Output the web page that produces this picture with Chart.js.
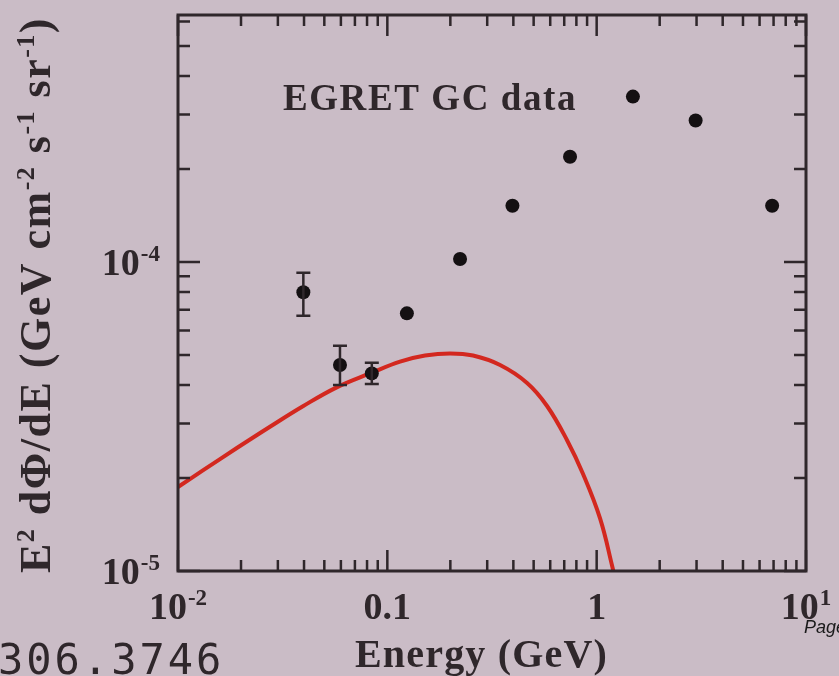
<!DOCTYPE html>
<html>
<head>
<meta charset="utf-8">
<script src="https://cdn.jsdelivr.net/npm/chart.js@4.4.1/dist/chart.umd.min.js"></script>
<style>
    html, body { margin: 0; padding: 0; background: #cabcc6; }
    #wrap { position: relative; width: 839px; height: 676px; }
</style>
</head>
<body>
<div id="wrap"><canvas id="sedChart"></canvas></div>
<script>
/* ==================================================
   EGRET 銀河中心スペクトル (Chart.js, 両対数)
   ================================================== */

// EGRET GC データ点 (GeV, GeV cm^-2 s^-1 sr^-1)
const egretE    = [0.0397, 0.0594, 0.0843, 0.124, 0.2225, 0.396, 0.746, 1.49, 2.97, 6.89];
const egretFlux = [7.98e-5, 4.64e-5, 4.36e-5, 6.82e-5, 1.023e-4, 1.52e-4, 2.19e-4, 3.43e-4, 2.87e-4, 1.52e-4];
const egretLo   = [6.70e-5, 4.00e-5, 4.03e-5, null, null, null, null, null, null, null];
const egretHi   = [9.23e-5, 5.36e-5, 4.72e-5, null, null, null, null, null, null, null];

// モデル曲線
const modelE    = [0.01, 0.0132, 0.0191, 0.0275, 0.0397, 0.0573, 0.0827, 0.1150, 0.1514, 0.1994,
                   0.2567, 0.3456, 0.4651, 0.5794, 0.722, 0.861, 1.038, 1.185, 1.265];
const modelFlux = [1.87e-5, 2.12e-5, 2.50e-5, 2.93e-5, 3.42e-5, 3.93e-5, 4.36e-5, 4.76e-5, 4.98e-5, 5.06e-5,
                   4.98e-5, 4.64e-5, 4.06e-5, 3.42e-5, 2.65e-5, 2.06e-5, 1.48e-5, 1.04e-5, 0.855e-5];

// 目盛
const xMajor  = [0.01, 0.1, 1, 10];
const xBase   = ['10', '0.1', '1', '10'];
const xExp    = ['-2', '', '', '1'];
const xMinor  = [0.02, 0.03, 0.04, 0.05, 0.06, 0.07, 0.08, 0.09,
                 0.2, 0.3, 0.4, 0.5, 0.6, 0.7, 0.8, 0.9,
                 2, 3, 4, 5, 6, 7, 8, 9];
const yMajor  = [1e-5, 1e-4];
const yBase   = ['10', '10'];
const yExp    = ['-5', '-4'];
const yMinor  = [2e-5, 3e-5, 4e-5, 5e-5, 6e-5, 7e-5, 8e-5, 9e-5, 2e-4, 3e-4, 4e-4, 5e-4, 6e-4];
const xMin = 0.01, xMax = 10;
const yMin = 1e-5, yMax = 6.3e-4;

const INK = '#2f272b';
const SERIF = '"Liberation Serif", "DejaVu Serif", serif';

/**
 * 右肩に指数付きの数値を描く (10^-4 など)
 */
function drawPow(ctx, base, exp, x, y, align, size) {
    const bigFont = `bold ${size}px ${SERIF}`;
    const supFont = `bold ${Math.round(size * 0.6)}px ${SERIF}`;
    ctx.font = bigFont;
    const wb = ctx.measureText(base).width;
    ctx.font = supFont;
    const we = exp ? ctx.measureText(exp).width + 1 : 0;
    const total = wb + we;
    let x0 = x - total / 2;
    if (align === 'right') x0 = x - total;
    ctx.textAlign = 'left';
    ctx.textBaseline = 'alphabetic';
    ctx.font = bigFont;
    ctx.fillText(base, x0, y);
    if (exp) {
        ctx.font = supFont;
        ctx.fillText(exp, x0 + wb + 1, y - size * 0.38);
    }
}

/**
 * 上付き文字を含むテキストを指定幅に合わせて描く
 * @param {Array} runs [{t, sup}]
 */
function drawRuns(ctx, runs, x, y, size, target) {
    const bigFont = `bold ${size}px ${SERIF}`;
    const supFont = `bold ${Math.round(size * 0.6)}px ${SERIF}`;
    ctx.letterSpacing = '0px';
    let natural = 0, chars = 0;
    runs.forEach(r => {
        ctx.font = r.sup ? supFont : bigFont;
        natural += ctx.measureText(r.t).width;
        chars += r.t.length;
    });
    const gap = (target - natural) / chars;
    let cx = x;
    ctx.textAlign = 'left';
    ctx.textBaseline = 'alphabetic';
    runs.forEach(r => {
        ctx.font = r.sup ? supFont : bigFont;
        ctx.letterSpacing = '0px';
        const w = ctx.measureText(r.t).width;
        ctx.letterSpacing = gap + 'px';
        ctx.fillText(r.t, cx, r.sup ? y - size * 0.36 : y);
        cx += w + gap * r.t.length;
    });
    ctx.letterSpacing = '0px';
}

// 枠・目盛・ラベル・誤差棒
const sedFrame = {
    id: 'sedFrame',
    afterDatasetsDraw(chart) {
        const { ctx, scales: { x, y } } = chart;
        ctx.save();
        ctx.strokeStyle = INK;
        ctx.lineWidth = 2.5;
        egretE.forEach((e, i) => {
            if (egretLo[i] == null) return;
            const px = x.getPixelForValue(e);
            const yLo = y.getPixelForValue(egretLo[i]);
            const yHi = y.getPixelForValue(egretHi[i]);
            ctx.beginPath();
            ctx.moveTo(px, yLo); ctx.lineTo(px, yHi);
            ctx.moveTo(px - 7, yLo); ctx.lineTo(px + 7, yLo);
            ctx.moveTo(px - 7, yHi); ctx.lineTo(px + 7, yHi);
            ctx.stroke();
        });
        ctx.restore();
    },
    afterDraw(chart) {
        const { ctx, chartArea: a, scales: { x, y } } = chart;
        ctx.save();
        ctx.strokeStyle = INK;
        ctx.fillStyle = INK;

        // 目盛 (内向き、四辺)
        ctx.lineWidth = 2.5;
        const tickX = (v, len) => {
            const px = x.getPixelForValue(v);
            ctx.beginPath();
            ctx.moveTo(px, a.bottom); ctx.lineTo(px, a.bottom - len);
            ctx.moveTo(px, a.top); ctx.lineTo(px, a.top + len);
            ctx.stroke();
        };
        const tickY = (v, len) => {
            const py = y.getPixelForValue(v);
            ctx.beginPath();
            ctx.moveTo(a.left, py); ctx.lineTo(a.left + len, py);
            ctx.moveTo(a.right, py); ctx.lineTo(a.right - len, py);
            ctx.stroke();
        };
        xMinor.forEach(v => tickX(v, 11));
        xMajor.forEach(v => tickX(v, 21));
        yMinor.forEach(v => tickY(v, 12));
        yMajor.forEach(v => tickY(v, 22));

        // 枠
        ctx.lineWidth = 3;
        ctx.strokeRect(a.left, a.top, a.right - a.left, a.bottom - a.top);

        // 目盛ラベル
        xMajor.forEach((v, i) => drawPow(ctx, xBase[i], xExp[i], x.getPixelForValue(v), 619, 'center', 38));
        yMajor.forEach((v, i) => drawPow(ctx, yBase[i], yExp[i], 160, y.getPixelForValue(v) + 13, 'right', 38));

        // 軸タイトル
        drawRuns(ctx, [{ t: 'Energy (GeV)' }], 355, 667, 40, 253);
        ctx.save();
        ctx.translate(50, 573);
        ctx.rotate(-Math.PI / 2);
        drawRuns(ctx, [
            { t: 'E' }, { t: '2', sup: true }, { t: ' d\u03A6/dE (GeV cm' }, { t: '-2', sup: true },
            { t: ' s' }, { t: '-1', sup: true }, { t: ' sr' }, { t: '-1', sup: true }, { t: ')' }
        ], 0, 0, 44, 556);
        ctx.restore();

        // 注記
        drawRuns(ctx, [{ t: 'EGRET GC data' }], 283, 110, 37, 294);

        // 下端の文字
        ctx.font = '42px "DejaVu Sans Mono", monospace';
        ctx.letterSpacing = '3px';
        ctx.textAlign = 'left';
        ctx.fillText('306.3746', -2, 674);
        ctx.letterSpacing = '0px';
        ctx.font = 'italic 18px "Liberation Sans", Arial, sans-serif';
        ctx.fillStyle = '#1a1a1a';
        ctx.fillText('Page', 804, 633);
        ctx.restore();
    }
};

const ctx = document.getElementById('sedChart').getContext('2d');
new Chart(ctx, {
    type: 'scatter',
    data: {
        datasets: [
            {
                label: 'EGRET GC data',
                data: egretE.map((e, i) => ({ x: e, y: egretFlux[i] })),
                backgroundColor: '#141012',
                borderWidth: 0,
                pointRadius: 7,
                order: 1
            },
            {
                label: 'model',
                data: modelE.map((e, i) => ({ x: e, y: modelFlux[i] })),
                showLine: true,
                borderColor: '#d3281f',
                borderWidth: 4,
                pointRadius: 0,
                tension: 0.4,
                fill: false,
                order: 2
            }
        ]
    },
    options: {
        responsive: true,
        maintainAspectRatio: false,
        animation: false,
        events: [],
        layout: { padding: { left: 0, right: 33, top: 15, bottom: 0 } },
        plugins: {
            legend: { display: false },
            tooltip: { enabled: false }
        },
        scales: {
            x: {
                type: 'logarithmic',
                min: xMin,
                max: xMax,
                grid: { display: false },
                border: { display: false },
                ticks: { display: false },
                afterFit(scale) { scale.height = 105; }
            },
            y: {
                type: 'logarithmic',
                min: yMin,
                max: yMax,
                grid: { display: false },
                border: { display: false },
                ticks: { display: false },
                afterFit(scale) { scale.width = 178; }
            }
        }
    },
    plugins: [sedFrame]
});
</script>
</body>
</html>
